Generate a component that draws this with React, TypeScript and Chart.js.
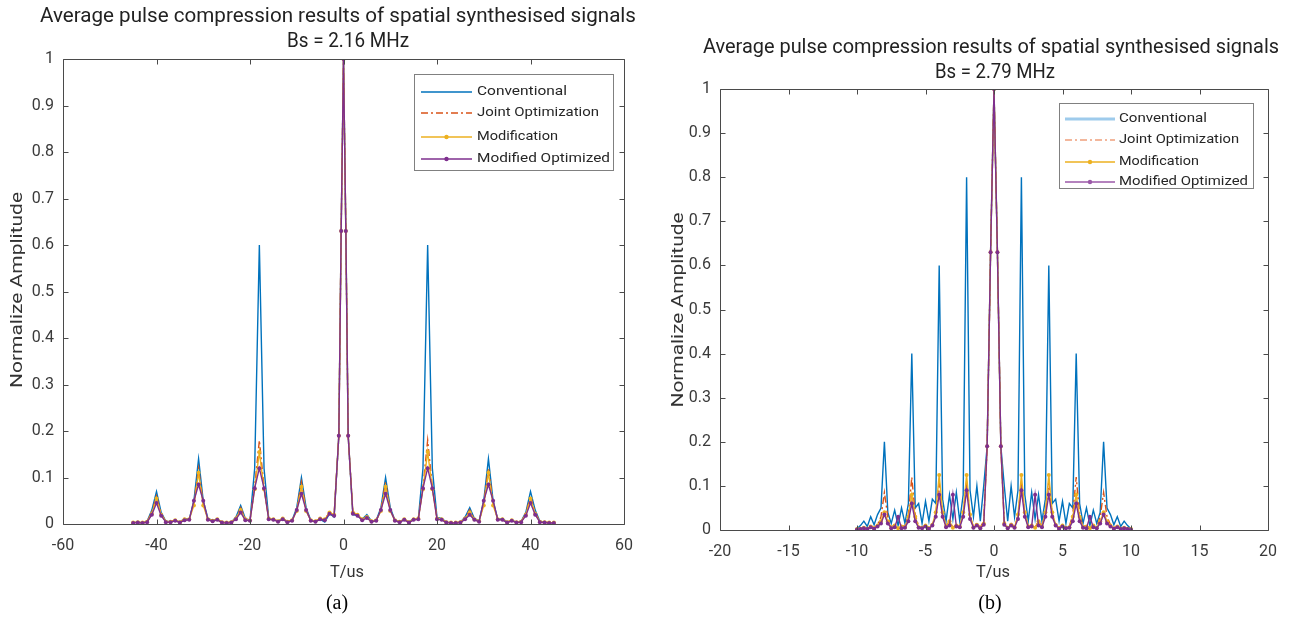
import React, { useEffect, useRef } from "react";
import { Chart, registerables } from "chart.js";
Chart.register(...registerables);

// ---------- data: panel (a), Bs = 2.16 MHz ----------
const xsA = [
  -45, -44, -43, -42, -41, -40, -39, -38, -37, -36, -35, -34, -33, -32, -31,
  -30, -29, -28, -27, -26, -25, -24, -23, -22, -21, -20, -19, -18, -17, -16,
  -15, -14, -13, -12, -11, -10, -9, -8, -7, -6, -5, -4, -3, -2, -1,
  -0.5, 0, 0.5,
  1, 2, 3, 4, 5, 6, 7, 8, 9, 10, 11, 12, 13, 14, 15,
  16, 17, 18, 19, 20, 21, 22, 23, 24, 25, 26, 27, 28, 29, 30,
  31, 32, 33, 34, 35, 36, 37, 38, 39, 40, 41, 42, 43, 44, 45,
];
const conventionalA = [
  0.003, 0.004, 0.003, 0.006, 0.03, 0.07, 0.025, 0.006, 0.005, 0.008, 0.004, 0.012, 0.01, 0.05, 0.14,
  0.05, 0.012, 0.008, 0.01, 0.004, 0.003, 0.004, 0.015, 0.04, 0.012, 0.008, 0.12, 0.6, 0.12, 0.012,
  0.01, 0.006, 0.012, 0.005, 0.008, 0.035, 0.1, 0.035, 0.008, 0.006, 0.01, 0.004, 0.022, 0.015, 0.19,
  0.63, 1, 0.63,
  0.19, 0.02, 0.018, 0.01, 0.02, 0.006, 0.008, 0.035, 0.1, 0.035, 0.008, 0.005, 0.01, 0.004, 0.012,
  0.01, 0.12, 0.6, 0.12, 0.014, 0.012, 0.004, 0.003, 0.003, 0.004, 0.015, 0.035, 0.012, 0.006, 0.05,
  0.14, 0.05, 0.01, 0.012, 0.004, 0.008, 0.004, 0.006, 0.025, 0.07, 0.03, 0.006, 0.004, 0.003, 0.003,
];
const jointA = [
  0.003, 0.004, 0.003, 0.005, 0.025, 0.06, 0.022, 0.005, 0.005, 0.008, 0.004, 0.01, 0.01, 0.045, 0.12,
  0.045, 0.01, 0.007, 0.01, 0.004, 0.003, 0.004, 0.012, 0.035, 0.01, 0.008, 0.08, 0.18, 0.08, 0.012,
  0.01, 0.006, 0.012, 0.005, 0.008, 0.03, 0.09, 0.03, 0.008, 0.006, 0.012, 0.01, 0.025, 0.02, 0.19,
  0.63, 1, 0.63,
  0.19, 0.025, 0.02, 0.01, 0.015, 0.006, 0.008, 0.03, 0.09, 0.03, 0.008, 0.005, 0.01, 0.004, 0.01,
  0.012, 0.08, 0.18, 0.08, 0.012, 0.01, 0.004, 0.003, 0.003, 0.004, 0.012, 0.03, 0.01, 0.006, 0.045,
  0.12, 0.045, 0.01, 0.01, 0.004, 0.008, 0.004, 0.005, 0.022, 0.06, 0.025, 0.005, 0.004, 0.003, 0.003,
];
const modificationA = [
  0.003, 0.004, 0.003, 0.005, 0.022, 0.055, 0.02, 0.005, 0.005, 0.008, 0.004, 0.01, 0.01, 0.04, 0.11,
  0.04, 0.01, 0.007, 0.01, 0.004, 0.003, 0.004, 0.012, 0.03, 0.01, 0.008, 0.075, 0.155, 0.075, 0.012,
  0.01, 0.006, 0.012, 0.005, 0.008, 0.028, 0.08, 0.028, 0.008, 0.006, 0.012, 0.01, 0.025, 0.02, 0.19,
  0.63, 1, 0.63,
  0.19, 0.025, 0.02, 0.01, 0.015, 0.006, 0.008, 0.028, 0.08, 0.028, 0.008, 0.005, 0.01, 0.004, 0.01,
  0.012, 0.075, 0.155, 0.075, 0.012, 0.01, 0.004, 0.003, 0.003, 0.004, 0.012, 0.025, 0.01, 0.006, 0.04,
  0.11, 0.04, 0.01, 0.01, 0.004, 0.008, 0.004, 0.005, 0.02, 0.055, 0.022, 0.005, 0.004, 0.003, 0.003,
];
const modifiedOptA = [
  0.002, 0.003, 0.002, 0.004, 0.02, 0.045, 0.018, 0.004, 0.004, 0.007, 0.003, 0.008, 0.009, 0.05, 0.085,
  0.05, 0.009, 0.006, 0.009, 0.003, 0.002, 0.003, 0.01, 0.025, 0.008, 0.007, 0.077, 0.12, 0.077, 0.01,
  0.009, 0.005, 0.01, 0.004, 0.007, 0.03, 0.065, 0.03, 0.007, 0.005, 0.01, 0.008, 0.022, 0.018, 0.19,
  0.63, 1, 0.63,
  0.19, 0.022, 0.018, 0.008, 0.013, 0.005, 0.007, 0.03, 0.065, 0.03, 0.007, 0.004, 0.009, 0.003, 0.009,
  0.01, 0.077, 0.12, 0.077, 0.01, 0.009, 0.003, 0.002, 0.002, 0.003, 0.01, 0.02, 0.009, 0.005, 0.05,
  0.085, 0.05, 0.009, 0.009, 0.003, 0.007, 0.003, 0.004, 0.018, 0.045, 0.02, 0.004, 0.003, 0.002, 0.002,
];

// ---------- data: panel (b), Bs = 2.79 MHz ----------
const xsB = [
  -10, -9.75, -9.5, -9.25, -9, -8.75, -8.5, -8.25, -8,
  -7.75, -7.5, -7.25, -7, -6.75, -6.5, -6.25, -6,
  -5.75, -5.5, -5.25, -5, -4.75, -4.5, -4.25, -4,
  -3.75, -3.5, -3.25, -3, -2.75, -2.5, -2.25, -2,
  -1.75, -1.5, -1.25, -1, -0.75, -0.5, -0.25, 0,
  0.25, 0.5, 0.75, 1, 1.25, 1.5, 1.75, 2,
  2.25, 2.5, 2.75, 3, 3.25, 3.5, 3.75, 4,
  4.25, 4.5, 4.75, 5, 5.25, 5.5, 5.75, 6,
  6.25, 6.5, 6.75, 7, 7.25, 7.5, 7.75, 8,
  8.25, 8.5, 8.75, 9, 9.25, 9.5, 9.75, 10,
];
const conventionalB = [
  0.003, 0.01, 0.02, 0.008, 0.03, 0.012, 0.035, 0.05, 0.2,
  0.04, 0.015, 0.045, 0.01, 0.05, 0.015, 0.06, 0.4,
  0.05, 0.06, 0.015, 0.065, 0.02, 0.07, 0.06, 0.6,
  0.07, 0.02, 0.08, 0.025, 0.085, 0.02, 0.08, 0.8,
  0.09, 0.03, 0.1, 0.02, 0.1, 0.19, 0.63, 1,
  0.63, 0.19, 0.1, 0.02, 0.1, 0.03, 0.09, 0.8,
  0.08, 0.02, 0.085, 0.025, 0.08, 0.02, 0.07, 0.6,
  0.06, 0.07, 0.02, 0.065, 0.015, 0.06, 0.05, 0.4,
  0.06, 0.015, 0.05, 0.01, 0.045, 0.015, 0.04, 0.2,
  0.05, 0.035, 0.012, 0.03, 0.008, 0.02, 0.01, 0.003,
];
const jointB = [
  0.002, 0.004, 0.006, 0.004, 0.01, 0.005, 0.012, 0.03, 0.085,
  0.03, 0.006, 0.012, 0.004, 0.01, 0.008, 0.035, 0.12,
  0.035, 0.008, 0.006, 0.012, 0.005, 0.01, 0.035, 0.11,
  0.035, 0.01, 0.02, 0.006, 0.012, 0.008, 0.035, 0.11,
  0.03, 0.008, 0.015, 0.006, 0.02, 0.19, 0.63, 1,
  0.63, 0.19, 0.02, 0.006, 0.015, 0.008, 0.03, 0.11,
  0.035, 0.008, 0.012, 0.006, 0.02, 0.01, 0.035, 0.11,
  0.035, 0.01, 0.005, 0.012, 0.006, 0.008, 0.035, 0.12,
  0.035, 0.008, 0.01, 0.004, 0.012, 0.006, 0.03, 0.085,
  0.03, 0.012, 0.005, 0.01, 0.004, 0.006, 0.004, 0.002,
];
const modificationB = [
  0.002, 0.003, 0.005, 0.003, 0.008, 0.004, 0.01, 0.02, 0.04,
  0.02, 0.005, 0.01, 0.004, 0.008, 0.006, 0.03, 0.08,
  0.03, 0.006, 0.005, 0.01, 0.004, 0.012, 0.04, 0.125,
  0.04, 0.008, 0.02, 0.005, 0.01, 0.008, 0.04, 0.125,
  0.035, 0.006, 0.012, 0.005, 0.015, 0.19, 0.63, 1,
  0.63, 0.19, 0.015, 0.005, 0.012, 0.006, 0.035, 0.125,
  0.04, 0.008, 0.01, 0.005, 0.02, 0.008, 0.04, 0.125,
  0.04, 0.012, 0.004, 0.01, 0.005, 0.006, 0.03, 0.08,
  0.03, 0.006, 0.008, 0.004, 0.01, 0.005, 0.02, 0.04,
  0.02, 0.01, 0.004, 0.008, 0.003, 0.005, 0.003, 0.002,
];
const modifiedOptB = [
  0.001, 0.002, 0.004, 0.002, 0.006, 0.003, 0.008, 0.015, 0.035,
  0.015, 0.004, 0.006, 0.03, 0.004, 0.005, 0.02, 0.06,
  0.02, 0.005, 0.004, 0.008, 0.003, 0.01, 0.03, 0.08,
  0.03, 0.006, 0.01, 0.08, 0.008, 0.006, 0.03, 0.09,
  0.025, 0.005, 0.01, 0.004, 0.012, 0.19, 0.63, 1,
  0.63, 0.19, 0.012, 0.004, 0.01, 0.005, 0.025, 0.09,
  0.03, 0.006, 0.008, 0.08, 0.01, 0.006, 0.03, 0.08,
  0.03, 0.01, 0.003, 0.008, 0.004, 0.005, 0.02, 0.06,
  0.02, 0.005, 0.004, 0.03, 0.006, 0.004, 0.015, 0.035,
  0.015, 0.008, 0.003, 0.006, 0.002, 0.004, 0.002, 0.001,
];

// ---------- ticks & labels ----------
const xTicksA = [-60, -40, -20, 0, 20, 40, 60];
const xTicksB = [-20, -15, -10, -5, 0, 5, 10, 15, 20];
const yTicks = [0, 0.1, 0.2, 0.3, 0.4, 0.5, 0.6, 0.7, 0.8, 0.9, 1];
const seriesNames = ["Conventional", "Joint Optimization", "Modification", "Modified Optimized"];
const titleLine1 = "Average pulse compression results of spatial synthesised signals";
const titleA = "Bs = 2.16 MHz";
const titleB = "Bs = 2.79 MHz";
const xLabel = "T/us";
const yLabel = "Normalize Amplitude";

const SANS = 'Roboto, "Noto Sans", "DejaVu Sans", sans-serif';
const SERIF = '"Liberation Serif", "Times New Roman", "DejaVu Serif", serif';
const COLORS = ["#0072BD", "#D95319", "#EDB120", "#7E2F8E"];
const LEGEND_A = ["rgb(0,114,189)", "rgb(217,83,25)", "rgb(237,177,32)", "rgb(126,47,142)"];
const LEGEND_B = ["rgb(158,203,236)", "rgb(240,160,124)", "rgb(237,177,32)", "rgb(155,89,168)"];

type Panel = {
  left: number;
  xs: number[];
  series: number[][];
  xTicks: number[];
  padding: { top: number; right: number };
  yWidth: number;
  xHeight: number;
  tickPad: number;
  title2: string;
  t1: [number, number, number];
  t2: [number, number, number];
  ylab: [number, number, number];
  xlab: [number, number, number];
  panelLabel: string;
  panelPos: [number, number];
  legend: { x: number; y: number; w: number; h: number; x1: number; x2: number; tx: number; rows: number[]; widths: number[] };
  legendColors: string[];
  legendWidth0: number;
};

function drawText(ctx: CanvasRenderingContext2D, text: string, cx: number, cy: number, size: number, width: number, family: string, color: string, opts: { rotate?: boolean; align?: CanvasTextAlign } = {}) {
  ctx.save();
  ctx.font = `${size}px ${family}`;
  ctx.fillStyle = color;
  ctx.textAlign = opts.align || "center";
  ctx.textBaseline = "middle";
  const w = ctx.measureText(text).width;
  const sx = width > 0 ? width / w : 1;
  ctx.translate(cx, cy);
  if (opts.rotate) ctx.rotate(-Math.PI / 2);
  ctx.scale(sx, 1);
  ctx.fillText(text, 0, 0);
  ctx.restore();
}

function overlay(p: Panel) {
  return {
    id: "overlay",
    afterDraw(chart: any) {
      const ctx: CanvasRenderingContext2D = chart.ctx;
      const a = chart.chartArea;
      const sx = chart.scales.x;
      const sy = chart.scales.y;
      ctx.save();
      ctx.setLineDash([]);
      ctx.globalAlpha = 1;
      ctx.strokeStyle = "#4a4a4a";
      ctx.lineWidth = 1;
      const L = Math.round(a.left) + 0.5, R = Math.round(a.right) + 0.5;
      const T = Math.round(a.top) + 0.5, B = Math.round(a.bottom) + 0.5;
      ctx.beginPath();
      ctx.rect(L, T, R - L, B - T);
      for (const v of p.xTicks) {
        const px = Math.round(sx.getPixelForValue(v)) + 0.5;
        ctx.moveTo(px, B); ctx.lineTo(px, B - 5);
        ctx.moveTo(px, T); ctx.lineTo(px, T + 5);
      }
      for (const v of yTicks) {
        const py = Math.round(sy.getPixelForValue(v)) + 0.5;
        ctx.moveTo(L, py); ctx.lineTo(L + 5, py);
        ctx.moveTo(R, py); ctx.lineTo(R - 5, py);
      }
      ctx.stroke();

      // titles & labels
      drawText(ctx, titleLine1, p.t1[0], p.t1[1], 20, p.t1[2], SANS, "#222");
      drawText(ctx, p.title2, p.t2[0], p.t2[1], 20, p.t2[2], SANS, "#222");
      drawText(ctx, yLabel, p.ylab[0], p.ylab[1], 17, p.ylab[2], SANS, "#333", { rotate: true });
      drawText(ctx, xLabel, p.xlab[0], p.xlab[1], 17, p.xlab[2], SANS, "#333");
      drawText(ctx, p.panelLabel, p.panelPos[0], p.panelPos[1], 20, 0, SERIF, "#000");

      // legend
      const lg = p.legend;
      ctx.fillStyle = "#ffffff";
      ctx.fillRect(lg.x, lg.y, lg.w, lg.h);
      ctx.strokeStyle = "#808080";
      ctx.lineWidth = 1;
      ctx.strokeRect(lg.x + 0.5, lg.y + 0.5, lg.w, lg.h);
      ctx.restore();
      for (let i = 0; i < seriesNames.length; i++) {
        const y = lg.rows[i];
        const col = p.legendColors[i];
        ctx.save();
        ctx.globalAlpha = 1;
        ctx.globalCompositeOperation = "source-over";
        ctx.strokeStyle = col;
        ctx.lineWidth = i === 0 ? p.legendWidth0 : 1.6;
        ctx.setLineDash(i === 1 ? [7, 3, 2, 3] : []);
        ctx.beginPath();
        ctx.moveTo(lg.x1, y);
        ctx.lineTo(lg.x2, y);
        ctx.stroke();
        if (i >= 2) {
          ctx.setLineDash([]);
          ctx.fillStyle = col;
          ctx.beginPath();
          ctx.arc((lg.x1 + lg.x2) / 2, y, 2.2, 0, Math.PI * 2);
          ctx.fill();
        }
        ctx.restore();
        drawText(ctx, seriesNames[i], lg.tx, lg.rows[i], 13.5, lg.widths[i], SANS, "#262626", { align: "left" });
      }
    },
  };
}

const panelA: Panel = {
  left: 0,
  xs: xsA,
  series: [conventionalA, jointA, modificationA, modifiedOptA],
  xTicks: xTicksA,
  padding: { top: 59, right: 15 },
  yWidth: 63,
  xHeight: 95,
  tickPad: 12,
  title2: titleA,
  t1: [338, 17, 596],
  t2: [348, 42, 122],
  ylab: [18, 290, 196],
  xlab: [347, 573, 34],
  panelLabel: "(a)",
  panelPos: [337, 604],
  legend: { x: 414, y: 74, w: 199, h: 96, x1: 421, x2: 472, tx: 477, rows: [92, 113, 137, 159], widths: [90, 122, 81, 133] },
  legendColors: LEGEND_A,
  legendWidth0: 1.4,
};

const panelB: Panel = {
  left: 645,
  xs: xsB,
  series: [conventionalB, jointB, modificationB, modifiedOptB],
  xTicks: xTicksB,
  padding: { top: 89, right: 22 },
  yWidth: 75,
  xHeight: 89,
  tickPad: 12,
  title2: titleB,
  t1: [346, 48, 576],
  t2: [350, 73, 120],
  ylab: [34, 310, 195],
  xlab: [348, 573, 34],
  panelLabel: "(b)",
  panelPos: [345, 604],
  legend: { x: 414, y: 103, w: 194, h: 85, x1: 420, x2: 470, tx: 474, rows: [119, 140, 162, 182], widths: [88, 120, 80, 129] },
  legendColors: LEGEND_B,
  legendWidth0: 2.8,
};

function PanelChart({ p }: { p: Panel }) {
  const ref = useRef<HTMLCanvasElement>(null);
  useEffect(() => {
    const tickFont = { family: SANS, size: 16 };
    const datasets = p.series.map((ys, i) => ({
      label: seriesNames[i],
      data: p.xs.map((x, j) => ({ x, y: ys[j] })),
      borderColor: COLORS[i],
      backgroundColor: COLORS[i],
      borderWidth: 1.4,
      borderDash: i === 1 ? [7, 3, 2, 3] : [],
      pointRadius: i >= 2 ? 2 : 0,
      pointBorderWidth: 0,
      pointBackgroundColor: COLORS[i],
      tension: 0,
      order: 4 - i,
    }));
    const chart = new Chart(ref.current as HTMLCanvasElement, {
      type: "line",
      data: { datasets },
      options: {
        animation: false,
        responsive: false,
        layout: { padding: { left: 0, top: p.padding.top, right: p.padding.right, bottom: 0 } },
        plugins: { legend: { display: false }, tooltip: { enabled: false }, title: { display: false } },
        scales: {
          x: {
            type: "linear",
            min: p.xTicks[0],
            max: p.xTicks[p.xTicks.length - 1],
            grid: { display: false, drawTicks: false },
            border: { display: false },
            ticks: { font: tickFont, color: "#3a3a3a", padding: p.tickPad, autoSkip: false, maxRotation: 0, callback: (v: any) => String(v) },
            afterBuildTicks: (s: any) => { s.ticks = p.xTicks.map((v) => ({ value: v })); },
            afterFit: (s: any) => { s.height = p.xHeight; },
          },
          y: {
            type: "linear",
            min: 0,
            max: 1,
            grid: { display: false, drawTicks: false },
            border: { display: false },
            ticks: { font: tickFont, color: "#3a3a3a", padding: 9, autoSkip: false, callback: (v: any) => String(Number(Number(v).toFixed(1))) },
            afterBuildTicks: (s: any) => { s.ticks = yTicks.map((v) => ({ value: v })); },
            afterFit: (s: any) => { s.width = p.yWidth; },
          },
        },
      } as any,
      plugins: [overlay(p)],
    });
    return () => chart.destroy();
  }, [p]);
  return (
    <canvas
      ref={ref}
      width={645}
      height={619}
      style={{ position: "absolute", left: p.left, top: 0, width: 645, height: 619 }}
    />
  );
}

export default function App() {
  return (
    <div style={{ position: "fixed", left: 0, top: 0, width: 1290, height: 619, background: "#fff", overflow: "hidden" }}>
      <PanelChart p={panelA} />
      <PanelChart p={panelB} />
    </div>
  );
}
